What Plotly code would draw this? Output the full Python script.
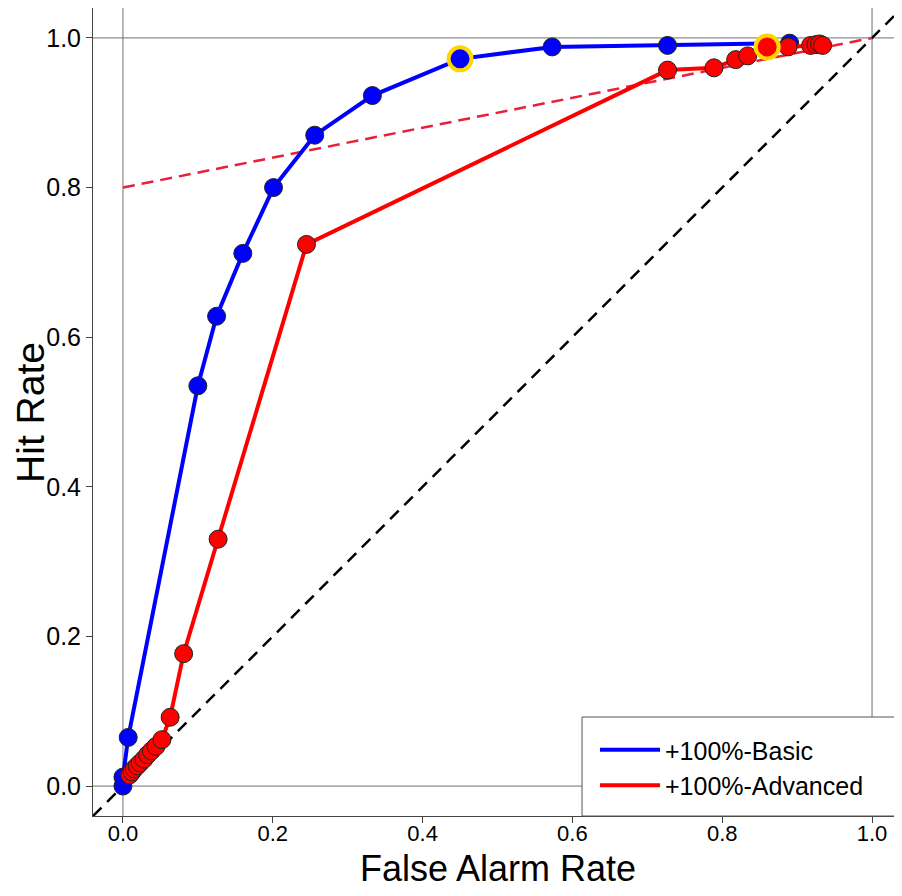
import plotly.graph_objects as go

# Blue series (+100%-Basic)
basic_far = [0.0, 0.0, 0.007, 0.100, 0.125, 0.160, 0.201, 0.256, 0.333, 0.450, 0.573, 0.727, 0.890]
basic_hit = [0.0, 0.012, 0.065, 0.535, 0.628, 0.712, 0.800, 0.870, 0.923, 0.972, 0.988, 0.990, 0.993]

# Red series (+100%-Advanced)
adv_far = [0.009, 0.012, 0.015, 0.019, 0.023, 0.028, 0.033, 0.038, 0.044, 0.052,
           0.063, 0.081, 0.127, 0.245, 0.727, 0.789, 0.818, 0.834, 0.860, 0.888,
           0.918, 0.925, 0.930, 0.934]
adv_hit = [0.015, 0.019, 0.023, 0.027, 0.031, 0.036, 0.042, 0.047, 0.053, 0.062,
           0.092, 0.177, 0.330, 0.724, 0.957, 0.960, 0.971, 0.976, 0.988, 0.988,
           0.990, 0.991, 0.992, 0.990]

# Highlighted (optimal) points
hl_basic = (0.450, 0.972)
hl_adv = (0.860, 0.988)

# Red dashed reference line
ref_dash_x = [0.0, 1.0]
ref_dash_y = [0.8, 1.0]

# Diagonal chance line
diag = [-0.04, 1.04]

ref_lines = [0, 1]
ticks = [0.0, 0.2, 0.4, 0.6, 0.8, 1.0]
tick_labels = ["0.0", "0.2", "0.4", "0.6", "0.8", "1.0"]

BLUE = "#0000FF"
RED = "#FF0000"
GOLD = "#FFD700"
FONT = "Liberation Sans"

fig = go.Figure()

for v in ref_lines:
    fig.add_hline(y=v, line=dict(color="#707070", width=1), layer="below")
    fig.add_vline(x=v, line=dict(color="#707070", width=1), layer="below")

fig.add_trace(go.Scatter(x=diag, y=diag, mode="lines",
                         line=dict(color="black", width=2.5, dash="12px,8px"),
                         showlegend=False, hoverinfo="skip"))
fig.add_trace(go.Scatter(x=ref_dash_x, y=ref_dash_y, mode="lines",
                         line=dict(color="#E8203A", width=2.5, dash="12px,7px"),
                         showlegend=False, hoverinfo="skip"))

fig.add_trace(go.Scatter(x=basic_far, y=basic_hit, mode="lines+markers",
                         name="+100%-Basic", showlegend=False,
                         line=dict(color=BLUE, width=4),
                         marker=dict(size=18, color=BLUE, line=dict(color="#222222", width=1))))
fig.add_trace(go.Scatter(x=adv_far, y=adv_hit, mode="lines+markers",
                         name="+100%-Advanced", showlegend=False,
                         line=dict(color=RED, width=4),
                         marker=dict(size=18, color=RED, line=dict(color="#222222", width=1))))

fig.add_trace(go.Scatter(x=[hl_basic[0]], y=[hl_basic[1]], mode="markers",
                         marker=dict(size=23, color=BLUE, line=dict(color=GOLD, width=4)),
                         showlegend=False, hoverinfo="skip"))
fig.add_trace(go.Scatter(x=[hl_adv[0]], y=[hl_adv[1]], mode="markers",
                         marker=dict(size=23, color=RED, line=dict(color=GOLD, width=4)),
                         showlegend=False, hoverinfo="skip"))

# legend-only line entries
fig.add_trace(go.Scatter(x=[None], y=[None], mode="lines", name="+100%-Basic",
                         legendgroup="a", line=dict(color=BLUE, width=4)))
fig.add_trace(go.Scatter(x=[None], y=[None], mode="lines", name="+100%-Advanced",
                         legendgroup="b", line=dict(color=RED, width=4)))

axis_common = dict(range=[-0.04, 1.04], showgrid=False, zeroline=False,
                   showline=True, linecolor="#444444", linewidth=1, mirror=True,
                   ticks="outside", ticklen=6, tickcolor="#444444",
                   tickvals=ticks, ticktext=tick_labels, automargin=False)

fig.update_xaxes(**axis_common,
                 tickfont=dict(family=FONT, size=22, color="black"),
                 ticklabelstandoff=-8)
fig.update_yaxes(**axis_common,
                 tickfont=dict(family=FONT, size=25, color="black"))

fig.add_annotation(text="Hit Rate", xref="paper", yref="paper", x=-0.078, y=0.5,
                   xanchor="center", yanchor="middle", textangle=-90, showarrow=False,
                   font=dict(family=FONT, size=39, color="black"))
fig.add_annotation(text="False Alarm Rate", xref="paper", yref="paper", x=0.5, y=-0.0644,
                   xanchor="center", yanchor="middle", showarrow=False,
                   font=dict(family=FONT, size=36, color="black"))

# legend frame
fig.add_shape(type="rect", xref="paper", yref="paper",
              x0=0.6045, x1=1.0, y0=0.0, y1=0.1225,
              line=dict(color="#555555", width=1), fillcolor="white", layer="above")

fig.update_layout(
    width=894, height=882,
    margin=dict(l=85, r=0, t=0, b=74),
    plot_bgcolor="white", paper_bgcolor="white",
    font=dict(family=FONT, color="black"),
    legend=dict(x=0.6205, y=0.110, xanchor="left", yanchor="top",
                bgcolor="rgba(0,0,0,0)", borderwidth=0,
                font=dict(family=FONT, size=25, color="black"),
                itemwidth=60, tracegroupgap=0),
)

fig.write_html("out.html")
